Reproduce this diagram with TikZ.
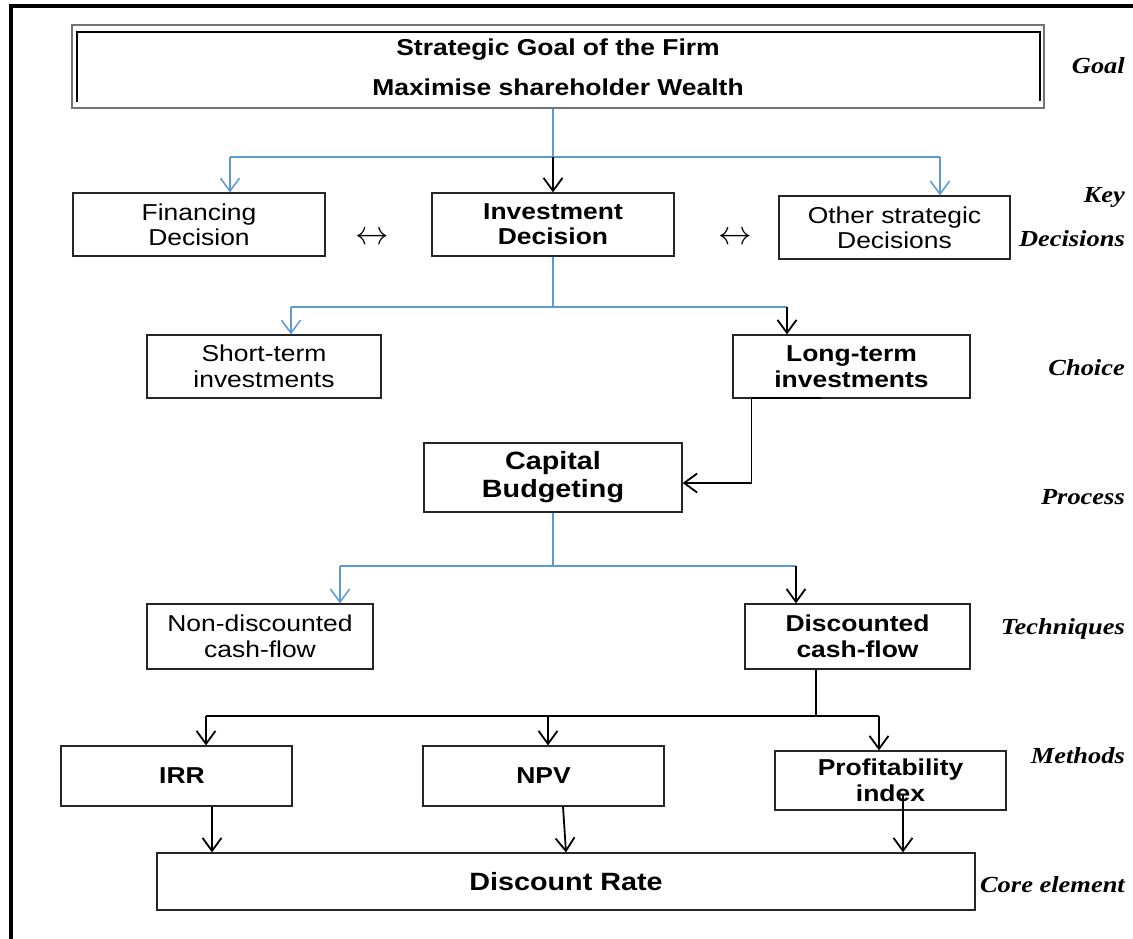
\documentclass[tikz,border=0pt]{standalone}
\usepackage{fontspec}
\usetikzlibrary{arrows.meta}
\newfontfamily\boxfont[FakeStretch=1.15]{Liberation Sans}
\newfontfamily\tagfont[FakeStretch=1.15]{Liberation Serif}
\definecolor{linkblue}{RGB}{91,155,213}

\begin{document}
\begin{tikzpicture}[x=1pt,y=-1pt,
  box/.style={draw=black!85,line width=1.2pt,inner sep=0pt,align=center,
    font=\boxfont\fontsize{23}{25}\selectfont},
  boldbox/.style={box,font=\boxfont\bfseries\fontsize{23}{25}\selectfont},
  bigbox/.style={box,font=\boxfont\bfseries\fontsize{25}{28}\selectfont},
  tag/.style={anchor=base east,inner sep=0pt,font=\tagfont\bfseries\itshape\fontsize{23}{25}\selectfont},
  bline/.style={linkblue,line width=1.5pt},
  kline/.style={black,line width=1.8pt},
  hline/.style={black,line width=1.3pt},
  tip/.style={-{Straight Barb[length=13pt,width=19pt]}},
  swap/.style={inner sep=0pt,font=\fontsize{24.88}{25}\selectfont},
]
\useasboundingbox (0,0) rectangle (1133,939);

% page frame (left and top edges)
\draw[line width=4pt] (11,939) -- (11,6) -- (1133,6);

% goal box with inner rule
\node[boldbox,draw=black!55,minimum width=972pt,minimum height=83pt] (goal) at (558,66.5)
  {\strut Strategic Goal of the Firm\\[15pt]Maximise shareholder Wealth};
\draw[line width=1.5pt] (77,102) -- (77,32) -- (1040,32) -- (1040,101);

% key decisions
\node[box,minimum width=252pt,minimum height=63pt] (fin) at (199,224.5) {Financing\\Decision};
\node[boldbox,minimum width=242pt,minimum height=63pt] (inv) at (553,224.5) {Investment\\Decision};
\node[box,minimum width=231pt,minimum height=63pt] (oth) at (894.5,227.5) {Other strategic\\Decisions};
\node[swap] (lr1) at (372,238) {\scalebox{1.35}{$\leftrightarrow$}};
\node[swap] (lr2) at (735,238) {\scalebox{1.35}{$\leftrightarrow$}};

% choice
\node[box,font=\boxfont\fontsize{23}{26}\selectfont,minimum width=234pt,minimum height=63pt] (sht) at (264,366.5) {Short-term\\investments};
\node[boldbox,font=\boxfont\bfseries\fontsize{23}{26}\selectfont,minimum width=237pt,minimum height=63pt] (lng) at (851.5,366.5) {Long-term\\investments};

% process
\node[bigbox,minimum width=258pt,minimum height=69pt] (cap) at (553,477.5) {Capital\\Budgeting};

% techniques
\node[box,font=\boxfont\fontsize{23}{26}\selectfont,minimum width=226pt,minimum height=65pt] (ndc) at (260,636.5) {Non-discounted\\cash-flow};
\node[boldbox,font=\boxfont\bfseries\fontsize{23}{26}\selectfont,minimum width=225pt,minimum height=65pt] (dcf) at (857.5,636.5) {Discounted\\cash-flow};

% methods
\node[boldbox,minimum width=231pt,minimum height=60pt] (irr) at (176.5,776) {\hspace{11pt}IRR};
\node[boldbox,minimum width=241pt,minimum height=60pt] (npv) at (543.5,776) {NPV};
\node[boldbox,font=\boxfont\bfseries\fontsize{23}{26}\selectfont,minimum width=231pt,minimum height=59pt] (pi) at (890.5,780.5) {Profitability\\index};

% core element
\node[bigbox,minimum width=818pt,minimum height=57pt] (dr) at (566,881.5) {Discount Rate};

% level tags
\node[tag] (tgoal) at (1125,74) {Goal};
\node[tag] (tkey) at (1125,203) {Key};
\node[tag] (tdec) at (1125,246) {Decisions};
\node[tag] (tcho) at (1125,375) {Choice};
\node[tag] (tpro) at (1125,504) {Process};
\node[tag] (ttec) at (1125,634) {Techniques};
\node[tag] (tmet) at (1125,763) {Methods};
\node[tag] (tcor) at (1125,892) {Core element};

% goal -> decisions
\coordinate (s1) at (553,157);
\coordinate (a1) at (230,157);
\coordinate (b1) at (940,157);
\draw[bline] (goal.south -| s1) -- (s1);
\draw[bline] (a1) -- (b1);
\draw[bline,tip] (a1) -- (a1 |- fin.north);
\draw[bline,tip] (b1) -- (b1 |- oth.north);
\draw[kline,tip] (s1) -- (inv.north);

% investment decision -> choice
\coordinate (s2) at (553,307);
\coordinate (a2) at (291,307);
\coordinate (b2) at (787,307);
\draw[bline] (inv.south) -- (s2);
\draw[bline] (a2) -- (b2);
\draw[bline,tip] (a2) -- (a2 |- sht.north);
\draw[kline,tip] (b2) -- (b2 |- lng.north);

% long-term -> capital budgeting
\draw[kline,tip] ([xshift=-31pt,yshift=1pt]lng.south) -- ++(-69,0) |- ([yshift=-5.5pt]cap.east);

% capital budgeting -> techniques
\coordinate (s4) at (553,566);
\coordinate (a4) at (340,566);
\coordinate (b4) at (796,566);
\draw[bline] (cap.south) -- (s4);
\draw[bline] (a4) -- (b4);
\draw[bline,tip] (a4) -- (a4 |- ndc.north);
\draw[kline,tip] (b4) -- (b4 |- dcf.north);

% discounted cash-flow -> methods
\coordinate (s5) at (816,716);
\coordinate (a5) at (206,716);
\coordinate (m5) at (548,716);
\coordinate (b5) at (879,716);
\draw[hline] (dcf.south -| s5) -- (s5);
\draw[hline] (a5) -- (b5);
\draw[kline,tip] (a5) -- (a5 |- irr.north);
\draw[kline,tip] (m5) -- (m5 |- npv.north);
\draw[kline,tip] (b5) -- (b5 |- pi.north);

% methods -> discount rate
\draw[kline,tip] ([xshift=35.5pt]irr.south) -- ([xshift=35.5pt]irr.south |- dr.north);
\draw[kline,tip] ([xshift=19.5pt]npv.south) -- ([xshift=22.5pt]npv.south |- dr.north);
\draw[kline,tip] ([xshift=12.5pt,yshift=16pt]pi.south) -- ([xshift=12.5pt]pi.south |- dr.north);
\end{tikzpicture}
\end{document}
